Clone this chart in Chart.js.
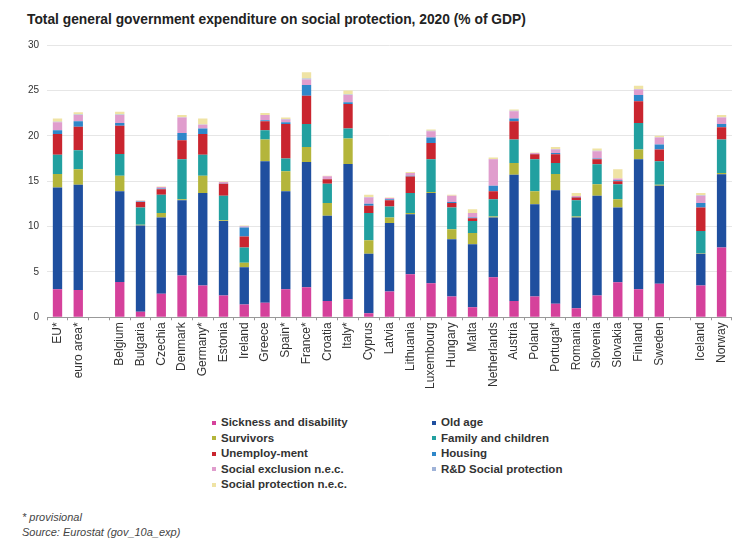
<!DOCTYPE html>
<html>
<head>
<meta charset="utf-8">
<script src="https://cdn.jsdelivr.net/npm/chart.js@4.4.0/dist/chart.umd.min.js"></script>
<style>
    body { margin: 0; background: #fff; font-family: "Liberation Sans", Arial, sans-serif; }
    #wrap { position: relative; width: 738px; height: 542px; overflow: hidden; }
    #title { position: absolute; left: 27px; top: 12px; font-size: 13.8px; font-weight: bold; color: #222; }
    #box { position: absolute; left: 0; top: 28px; width: 738px; height: 363px; }
    #legend { position: absolute; left: 212px; top: 416px; width: 420px; }
    .item { position: absolute; font-size: 11.5px; font-weight: bold; color: #333; white-space: nowrap; }
    .item i { display: inline-block; width: 4px; height: 4px; margin-right: 5px; vertical-align: middle; }
    #notes { position: absolute; left: 22px; top: 510px; font-size: 11px; font-style: italic; color: #444; line-height: 15px; }
</style>
</head>
<body>
<div id="wrap">
    <div id="title">Total general government expenditure on social protection, 2020 (% of GDP)</div>
    <div id="box"><canvas id="chart1"></canvas></div>
    <div id="legend"></div>
    <div id="notes">* provisional<br>Source: Eurostat (gov_10a_exp)</div>
</div>
<script>
    // empty labels are the gaps between groups
    var countries = ["EU*", "euro area*", " ", "Belgium", "Bulgaria", "Czechia", "Denmark", "Germany*", "Estonia", "Ireland",
        "Greece", "Spain*", "France*", "Croatia", "Italy*", "Cyprus", "Latvia", "Lithuania", "Luxembourg", "Hungary",
        "Malta", "Netherlands", "Austria", "Poland", "Portugal*", "Romania", "Slovenia", "Slovakia", "Finland", "Sweden",
        "  ", "Iceland", "Norway"];

    var sickness = [3.1, 3.0, null, 3.9, 0.6, 2.6, 4.6, 3.5, 2.4, 1.4, 1.6, 3.1, 3.3, 1.8, 2.0, 0.45, 2.85, 4.75, 3.75, 2.3, 1.1, 4.4, 1.8, 2.3, 1.5, 1.0, 2.4, 3.85, 3.1, 3.7, null, 3.5, 7.7];
    var oldAge = [11.2, 11.6, null, 10.0, 9.5, 8.4, 8.3, 10.2, 8.2, 4.1, 15.6, 10.8, 13.8, 9.4, 14.9, 6.55, 7.55, 6.6, 9.95, 6.3, 6.95, 6.6, 13.9, 10.15, 12.5, 10.0, 11.0, 8.25, 14.3, 10.8, null, 3.5, 8.05];
    var survivors = [1.5, 1.7, null, 1.7, 0.1, 0.5, 0.1, 1.9, 0.1, 0.5, 2.4, 2.2, 1.65, 1.4, 2.8, 1.5, 0.6, 0.15, 0.1, 1.1, 1.25, 0.1, 1.3, 1.45, 1.8, 0.1, 1.25, 0.9, 1.1, 0.1, null, 0.05, 0.15];
    var family = [2.1, 2.1, null, 2.4, 1.9, 2.0, 4.4, 2.3, 2.7, 1.7, 1.0, 1.4, 2.55, 2.1, 1.1, 3.0, 1.2, 2.2, 3.6, 2.4, 1.3, 1.9, 2.6, 3.5, 1.2, 1.8, 2.2, 1.65, 2.9, 2.6, null, 2.45, 3.7];
    var unemployment = [2.3, 2.6, null, 3.1, 0.6, 0.6, 2.1, 2.3, 1.3, 1.2, 1.0, 3.8, 3.1, 0.5, 2.7, 0.8, 0.7, 1.8, 1.8, 0.5, 0.3, 0.9, 2.0, 0.55, 0.95, 0.3, 0.55, 0.35, 2.4, 1.3, null, 2.6, 1.35];
    var housing = [0.4, 0.6, null, 0.3, 0.05, 0.1, 0.8, 0.6, 0.05, 1.0, 0.1, 0.2, 1.2, 0.05, 0.2, 0.2, 0.1, 0.1, 0.6, 0.1, 0.1, 0.6, 0.3, 0.05, 0.15, 0.05, 0.1, 0.1, 0.7, 0.55, null, 0.5, 0.35];
    var exclusion = [0.9, 0.7, null, 0.9, 0.1, 0.15, 1.7, 0.4, 0.15, 0.1, 0.6, 0.3, 0.6, 0.3, 0.8, 0.7, 0.15, 0.3, 0.7, 0.7, 0.5, 2.9, 0.8, 0.1, 0.4, 0.1, 0.8, 0.2, 0.6, 0.75, null, 0.8, 0.7];
    var rnd = [0.05, 0.05, null, 0.05, 0, 0, 0.05, 0.05, 0, 0.05, 0, 0.05, 0.1, 0, 0.05, 0.05, 0, 0, 0.05, 0, 0, 0.05, 0.05, 0, 0.05, 0, 0.05, 0, 0.05, 0.05, null, 0.05, 0.05];
    var nec = [0.35, 0.25, null, 0.3, 0.05, 0.05, 0.25, 0.65, 0.05, 0.05, 0.2, 0.15, 0.7, 0.05, 0.45, 0.25, 0.05, 0.1, 0.15, 0.1, 0.4, 0.15, 0.15, 0.05, 0.2, 0.35, 0.25, 1.0, 0.35, 0.15, null, 0.25, 0.25];

    var yTicks = [0, 5, 10, 15, 20, 25, 30];

    var series = [
        { name: "Sickness and disability", values: sickness, color: "#d5419b" },
        { name: "Old age", values: oldAge, color: "#1f4f9f" },
        { name: "Survivors", values: survivors, color: "#b4b53b" },
        { name: "Family and children", values: family, color: "#22a0a0" },
        { name: "Unemploy-ment", values: unemployment, color: "#c9252f" },
        { name: "Housing", values: housing, color: "#2f87c9" },
        { name: "Social exclusion n.e.c.", values: exclusion, color: "#e09dcd" },
        { name: "R&D Social protection", values: rnd, color: "#9fb3d8" },
        { name: "Social protection n.e.c.", values: nec, color: "#efe3a4" }
    ];

    var datasets = series.map(function (s) {
        return {
            label: s.name,
            data: s.values,
            backgroundColor: s.color,
            borderWidth: 0,
            barPercentage: 0.9,
            categoryPercentage: 0.5
        };
    });

    const chart1 = new Chart(document.getElementById("chart1"), {
        type: 'bar',
        data: { labels: countries, datasets: datasets },
        options: {
            responsive: true,
            maintainAspectRatio: false,
            animation: false,
            layout: { padding: { left: 20, right: 2, top: 17, bottom: 0 } },
            plugins: {
                legend: { display: false },
                tooltip: { enabled: false }
            },
            scales: {
                x: {
                    stacked: true,
                    grid: { display: true, drawOnChartArea: false, drawTicks: true, tickLength: 3, color: '#999', offset: true },
                    border: { display: true, color: '#999' },
                    ticks: {
                        autoSkip: false, maxRotation: 90, minRotation: 90,
                        font: { family: "Liberation Sans", size: 12 }, color: '#333', padding: 2
                    }
                },
                y: {
                    stacked: true,
                    min: 0, max: 30,
                    afterBuildTicks: function (axis) {
                        axis.ticks = yTicks.map(function (v) { return { value: v }; });
                    },
                    grid: { color: '#e6e6e6', drawTicks: false },
                    border: { display: false },
                    ticks: { font: { family: "Liberation Sans", size: 10 }, color: '#333', padding: 8 }
                }
            }
        }
    });

    // legend: two columns, filled row by row like the original
    var legend = document.getElementById('legend');
    series.forEach(function (s, i) {
        var d = document.createElement('div');
        d.className = 'item';
        d.style.left = (i % 2 == 0 ? 0 : 220) + 'px';
        d.style.top = (Math.floor(i / 2) * 15.5) + 'px';
        d.innerHTML = '<i style="background:' + s.color + '"></i>';
        d.appendChild(document.createTextNode(s.name));
        legend.appendChild(d);
    });
</script>
</body>
</html>
